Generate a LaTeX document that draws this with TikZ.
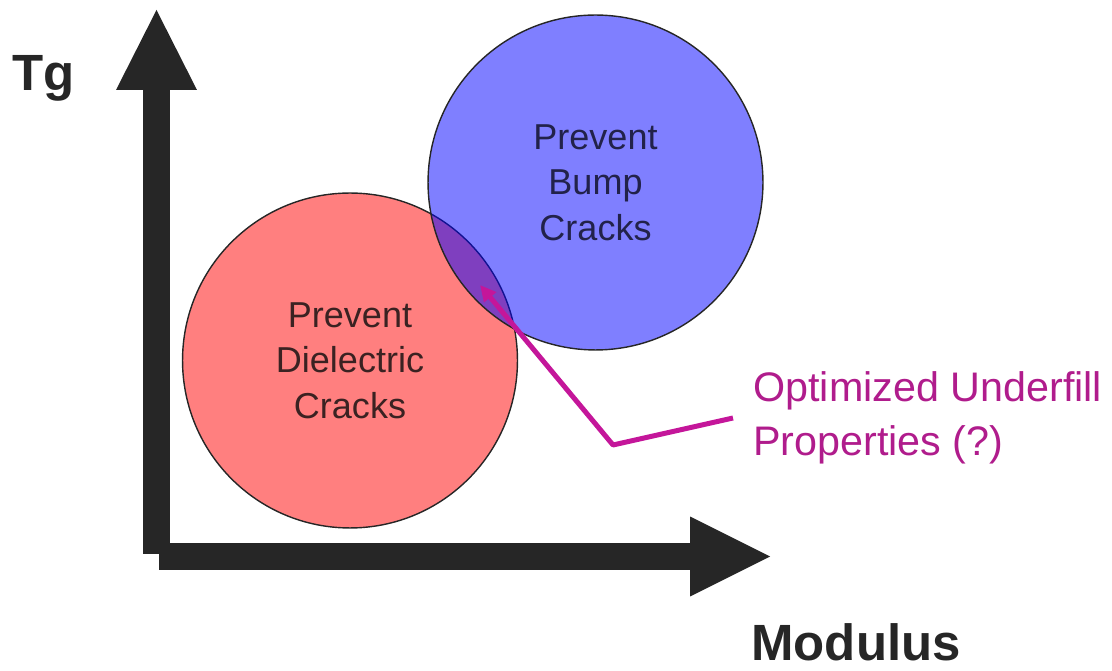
\documentclass[tikz,border=0pt]{standalone}
\usepackage{fontspec}
\setmainfont{Liberation Sans}
\usepackage{xcolor}
\usetikzlibrary{arrows.meta}
\definecolor{axisgray}{HTML}{262626}
\definecolor{pointer}{HTML}{C4169A}
\definecolor{pointertext}{HTML}{B01C8C}
\definecolor{redtext}{HTML}{3A2222}
\definecolor{bluetext}{HTML}{22224A}

\begin{document}
\begin{tikzpicture}[x=0.02cm, y=-0.02cm,
    crackzone/.style={circle, draw=black!85, line width=0.8pt, minimum size=6.7cm, inner sep=0pt,
      fill opacity=0.5, text opacity=1, align=center, font=\fontsize{20.5}{26}\selectfont},
    axislabel/.style={font=\fontsize{29}{33}\selectfont\bfseries, text=axisgray, inner sep=0pt}]
  \useasboundingbox (0,0) rectangle (1112,671);
  % axes
  \coordinate (yfoot) at (156.5,554);
  \coordinate (ytip) at (156.5,10);
  \coordinate (xfoot) at (159,556.5);
  \coordinate (xtip) at (770,556.5);
  \draw[axisgray, line width=0.54cm, -{Triangle[length=1.6cm, width=1.62cm, line width=0pt]}] (yfoot) -- (ytip);
  \draw[axisgray, line width=0.54cm, -{Triangle[length=1.6cm, width=1.6cm, line width=0pt]}] (xfoot) -- (xtip);
  \node[axislabel, anchor=base west] (tglabel) at (12,91) {Tg};
  \node[axislabel, anchor=base west] (moduluslabel) at (751,661) {Modulus};
  % the two regions
  \node[crackzone, fill=red, text=redtext] (dielectric) at (350,360.5) {Prevent\\Dielectric\\Cracks};
  \node[crackzone, fill=blue, text=bluetext] (bump) at (595.5,182.5) {Prevent\\Bump\\Cracks};
  % pointer to the overlap
  \node[anchor=west, align=left, inner xsep=0.4cm, inner ysep=0pt, text=pointertext,
    font=\fontsize{23.5}{31}\selectfont] (optimum) at (733,418) {Optimized Underfill\\Properties (?)};
  \coordinate (bend) at (613,445);
  \coordinate (overlap) at (480,285);
  \draw[pointer, line width=0.1cm, line join=round, -{Triangle[length=0.32cm, width=0.3cm]}] (optimum.west) -- (bend) -- (overlap);
\end{tikzpicture}
\end{document}
